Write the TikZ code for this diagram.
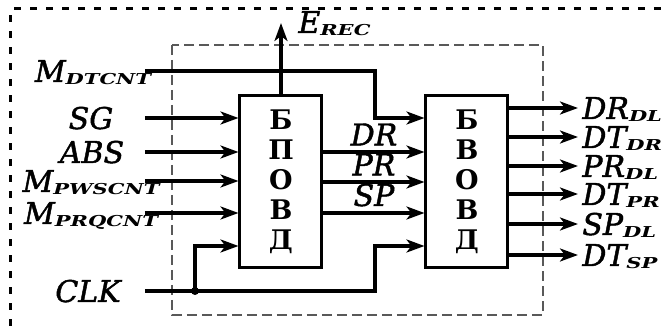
\documentclass[tikz,border=0pt]{standalone}
\usepackage{fontspec}
\setmainfont{DejaVu Serif}
\newfontfamily\sigfont[ItalicFeatures={FakeBold=1.5}]{DejaVu Serif}
\newfontfamily\subfont[FakeStretch=1.4]{DejaVu Serif}
\usetikzlibrary{arrows.meta,positioning}

\newcommand{\sigsub}[2]{#1\raisebox{-1.5pt}{\subfont\bfseries\itshape\fontsize{7.5}{7.5}\selectfont #2}}

\begin{document}
\begin{tikzpicture}[
    x=0.5pt, y=-0.5pt,
    block/.style={draw, line width=1.5pt, minimum width=41pt, minimum height=86pt, inner sep=0pt, align=center, font=\bfseries\fontsize{13.5}{15}\selectfont},
    sig/.style={inner sep=0pt, font=\sigfont\itshape\fontsize{15}{18}\selectfont},
    arrow/.style={-{Stealth[length=9pt,width=6.5pt,inset=2.5pt]}, line width=1.6pt},
    bound/.style={draw=black!65, line width=1pt, dash pattern=on 5pt off 2.5pt},
    frame/.style={line width=1.5pt, dash pattern=on 3.5pt off 4.5pt},
]
    \useasboundingbox (0,0) rectangle (661,326);
    \draw[frame] (11,326) -- (11,9) -- (661,9);
    \draw[bound] (172,45) rectangle (543,315);

    \node[block] (bpovd) at (281,182) {Б\\П\\О\\В\\Д};
    \node[block] (bvovd) at (467,182) {Б\\В\\О\\В\\Д};

    % inputs
    \coordinate (mdt) at (145,71);
    \coordinate (sg) at (145,118);
    \coordinate (abs) at (145,152);
    \coordinate (mpws) at (145,181);
    \coordinate (mprq) at (145,213);
    \coordinate (clk) at (145,291);
    \coordinate (clkdot) at (195,291);
    \coordinate (dtbend) at (375,118);
    \coordinate (clkbend) at (375,246);
    \coordinate (erec) at (281,23);

    \node[sig, anchor=base] (lmdt) at (93,82) {\sigsub{M}{DTCNT}};
    \node[sig, anchor=base] (lsg) at (91,129) {SG};
    \node[sig, anchor=base] (labs) at (92,163) {ABS};
    \node[sig, anchor=base] (lmpws) at (91,192) {\sigsub{M}{PWSCNT}};
    \node[sig, anchor=base] (lmprq) at (91,224) {\sigsub{M}{PRQCNT}};
    \node[sig, anchor=base] (lclk) at (88,302) {CLK};
    \node[sig, anchor=base west] (lerec) at (298,33) {\sigsub{E}{REC}};

    \draw[arrow] (sg) -- (sg -| bpovd.west);
    \draw[arrow] (abs) -- (abs -| bpovd.west);
    \draw[arrow] (mpws) -- (mpws -| bpovd.west);
    \draw[arrow] (mprq) -- (mprq -| bpovd.west);
    \draw[arrow] (mdt) -| (dtbend) -- (dtbend -| bvovd.west);
    \draw[arrow] (clk) -| (clkbend) -- (clkbend -| bvovd.west);
    \draw[arrow] (clkdot) |- (bpovd.west |- clkbend);
    \fill (clkdot) circle (2pt);
    \draw[arrow] (bpovd.north) -- (erec);

    % between the blocks
    \draw[arrow] (bpovd.east |- 0,152) -- node[sig, above=2.5pt] (ldr) {DR} (bvovd.west |- 0,152);
    \draw[arrow] (bpovd.east |- 0,182) -- node[sig, above=2.5pt] (lpr) {PR} (bvovd.west |- 0,182);
    \draw[arrow] (bpovd.east |- 0,213) -- node[sig, above=2.5pt] (lsp) {SP} (bvovd.west |- 0,213);

    % outputs
    \foreach \y/\m/\s [count=\i] in {108/DR/DL, 137/DT/DR, 166/PR/DL, 194/DT/PR, 224/SP/DL, 255/DT/SP} {
        \coordinate (out\i) at (578,\y);
        \draw[arrow] (bvovd.east |- out\i) -- (out\i);
        \node[sig, anchor=base west] (lout\i) at (582,\y+11) {\sigsub{\m}{\s}};
    }
\end{tikzpicture}
\end{document}
